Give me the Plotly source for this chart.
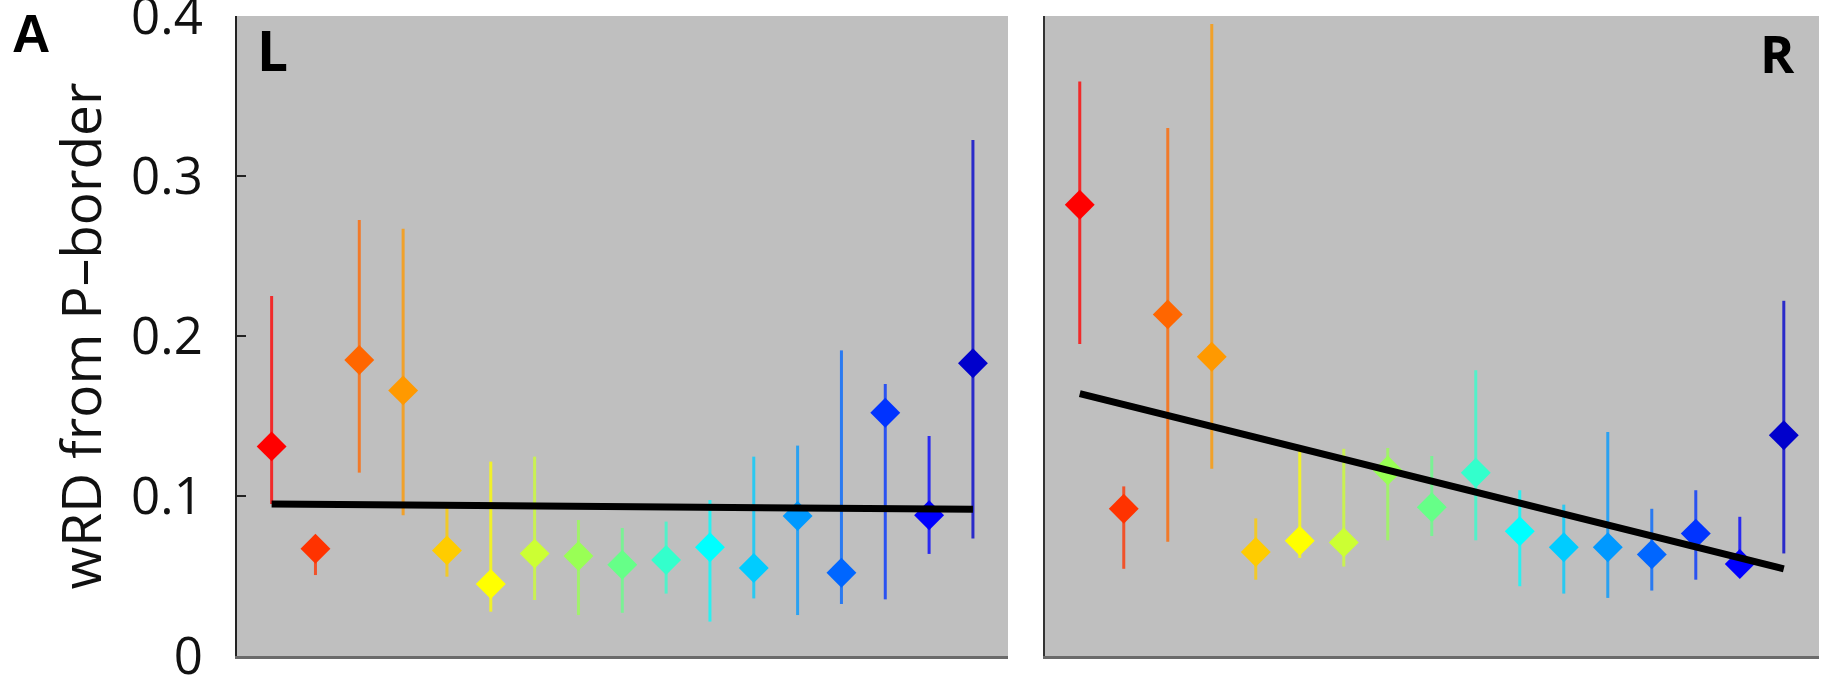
import plotly.graph_objects as go

# ---------------- data ----------------
positions = list(range(1, 18))
colors = ["#FF0000", "#FF3300", "#FF6600", "#FF9900", "#FFCC00", "#FFFF00",
          "#CCFF33", "#99FF55", "#66FF88", "#33FFCC", "#00FFFF", "#00CCFF",
          "#0099FF", "#0066FF", "#0033FF", "#0000FF", "#0000CC"]

L_mean = [0.131, 0.067, 0.185, 0.166, 0.066, 0.045, 0.064, 0.0625, 0.057,
          0.060, 0.068, 0.055, 0.0875, 0.052, 0.152, 0.088, 0.183]
L_upper = [0.225, 0.072, 0.2725, 0.267, 0.093, 0.1215, 0.1246, 0.085, 0.080,
           0.084, 0.0975, 0.1246, 0.1315, 0.191, 0.170, 0.1375, 0.3225]
L_lower = [0.095, 0.0506, 0.1146, 0.088, 0.0496, 0.0277, 0.035, 0.0256, 0.027,
           0.039, 0.0215, 0.036, 0.0256, 0.0325, 0.0354, 0.0638, 0.0735]

R_mean = [0.282, 0.092, 0.2135, 0.187, 0.065, 0.072, 0.071, 0.116, 0.093,
          0.1145, 0.078, 0.068, 0.068, 0.0635, 0.0765, 0.0575, 0.138]
R_upper = [0.359, 0.106, 0.330, 0.395, 0.086, 0.128, 0.1295, 0.130, 0.125,
           0.1786, 0.1036, 0.0946, 0.140, 0.092, 0.1036, 0.087, 0.222]
R_lower = [0.195, 0.0545, 0.0714, 0.117, 0.0477, 0.0613, 0.0559, 0.0723, 0.075,
           0.0723, 0.0436, 0.039, 0.0363, 0.0409, 0.0477, 0.053, 0.0641]

fit_x = [1, 17]
L_fit = [0.095, 0.0917]
R_fit = [0.164, 0.0545]

y_ticks = [0, 0.1, 0.2, 0.3, 0.4]
y_ticktext = ["0", "0.1", "0.2", "0.3", "0.4"]
y_title = "wRD from P\u2013border"
panel_labels = ["L", "R"]


def soften(hex_color, amount=0.22, gray=(191, 191, 191)):
    r, g, b = (int(hex_color[i:i + 2], 16) for i in (1, 3, 5))
    mix = [round(c * (1 - amount) + gc * amount) for c, gc in zip((r, g, b), gray)]
    return "rgb({},{},{})".format(*mix)


# ---------------- figure ----------------
fig = go.Figure()


def add_panel(means, upp, low, fit, xa, ya):
    for i, x in enumerate(positions):
        fig.add_trace(go.Scatter(
            x=[x], y=[means[i]], xaxis=xa, yaxis=ya, mode="markers",
            marker=dict(symbol="diamond", size=23, color=colors[i], line=dict(width=0)),
            error_y=dict(type="data", symmetric=False,
                         array=[upp[i] - means[i]], arrayminus=[means[i] - low[i]],
                         color=soften(colors[i]), thickness=3, width=0),
            showlegend=False, hoverinfo="skip"))
    fig.add_trace(go.Scatter(x=fit_x, y=fit, xaxis=xa, yaxis=ya, mode="lines",
                             line=dict(color="black", width=7),
                             showlegend=False, hoverinfo="skip"))


add_panel(L_mean, L_upper, L_lower, L_fit, "x", "y")
add_panel(R_mean, R_upper, R_lower, R_fit, "x2", "y2")

W, H = 1834, 681
ml, mr, mt, mb = 237, 15, 16, 25
pw = W - ml - mr
ph = H - mt - mb

xcommon = dict(range=[0.21, 17.8], showticklabels=False, ticks="", showgrid=False,
               zeroline=False, showline=True, linecolor="#6a6a6a", linewidth=3,
               fixedrange=True, automargin=False)
fig.update_layout(
    width=W, height=H, autosize=False,
    margin=dict(l=ml, r=mr, t=mt, b=mb, pad=0, autoexpand=False),
    paper_bgcolor="white", plot_bgcolor="#BFBFBF",
    font=dict(family="Open Sans", color="#111111"),
    xaxis=dict(domain=[0, 771 / pw], anchor="y", **xcommon),
    xaxis2=dict(domain=[(1045 - ml) / pw, 1], anchor="y2", **xcommon),
    yaxis=dict(domain=[0, 1], anchor="x", range=[0, 0.4], tickvals=y_ticks,
               ticktext=y_ticktext, ticks="inside", ticklen=9, tickwidth=2,
               tickcolor="#222222", showline=True, linecolor="#222222", linewidth=2,
               showgrid=False, zeroline=False, ticklabelstandoff=22,
               ticklabeloverflow="allow", automargin=False, fixedrange=True,
               tickfont=dict(family="Open Sans", size=51, color="#111111"),
               title=dict(text=y_title, standoff=12,
                          font=dict(family="Open Sans", size=55, color="#111111"))),
    yaxis2=dict(domain=[0, 1], anchor="x2", range=[0, 0.4], showticklabels=False,
                ticks="", showline=True, linecolor="#333333", linewidth=2,
                showgrid=False, zeroline=False, automargin=False, fixedrange=True),
)

fig.add_annotation(text="<b>A</b>", xref="paper", yref="paper",
                   x=(10 - ml) / pw, y=(H - mb - 34) / ph, xanchor="left", yanchor="middle",
                   showarrow=False, font=dict(family="Liberation Sans", size=53, color="black"))
fig.add_annotation(text="<b>" + panel_labels[0] + "</b>", xref="x domain", yref="paper",
                   x=(255 - 237) / 771, y=(H - mb - 50) / ph, xanchor="left", yanchor="middle",
                   showarrow=False, font=dict(family="Open Sans", size=55, color="black"))
fig.add_annotation(text="<b>" + panel_labels[1] + "</b>", xref="x2 domain", yref="paper",
                   x=(1797 - 1045) / 774, y=(H - mb - 52) / ph, xanchor="right", yanchor="middle",
                   showarrow=False, font=dict(family="Open Sans", size=52, color="black"))

fig.write_html("out.html", config={"displayModeBar": False},
               post_script="document.body.style.margin='0px';document.body.style.overflow='hidden';")
